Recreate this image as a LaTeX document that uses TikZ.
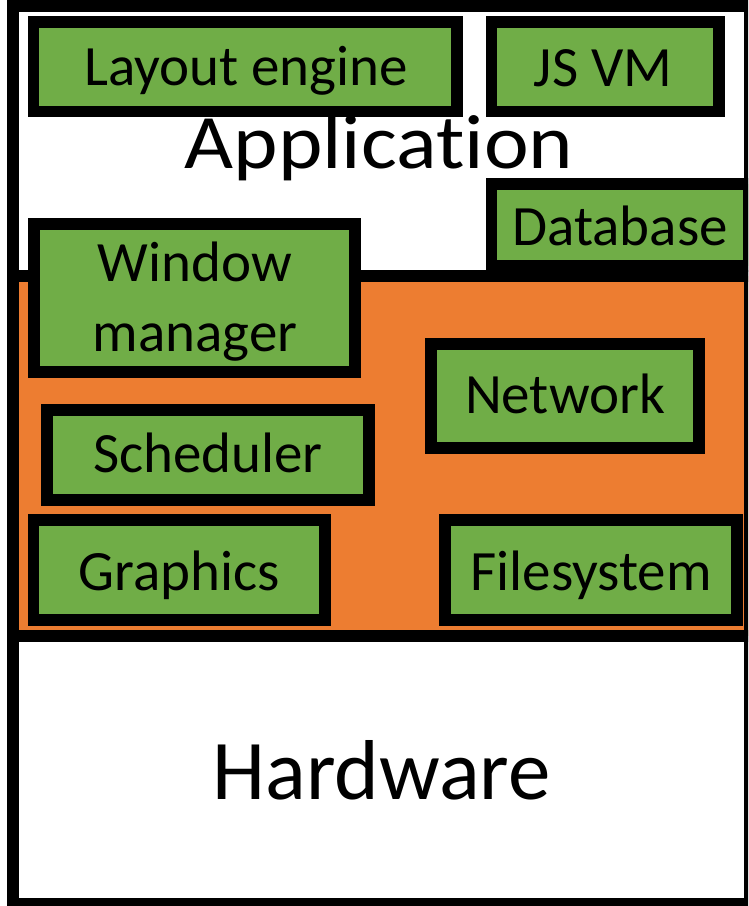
\documentclass[tikz,border=0pt]{standalone}
\usepackage{fontspec}
\setmainfont{Carlito}[Ligatures=NoCommon]
\usetikzlibrary{fit}
\definecolor{boxgreen}{HTML}{70AD47}
\definecolor{osorange}{HTML}{ED7D31}
\tikzset{
  layer/.style={draw=black, line width=12pt, inner sep=0pt, line join=miter},
  part/.style={draw=black, fill=boxgreen, line width=11.5pt, inner sep=0pt, line join=miter},
  partlabel/.style={font=\fontsize{57}{70}\selectfont, anchor=base, inner sep=0pt, align=center},
  biglabel/.style={anchor=base, inner sep=0pt},
}
\begin{document}
\begin{tikzpicture}[x=1pt,y=-1pt]
  \useasboundingbox (0,0) rectangle (748,906);
  \clip (0,0) rectangle (748,906);
  \fill[white] (0,0) rectangle (748,906);

  % the three layers of the stack
  \node[layer, fill=white, fit={(13,6) (750,276)}] (app) {};
  \node[layer, fill=osorange, fit={(13,276) (750,636)}] (os) {};
  \node[layer, fill=white, fit={(13,636) (750,904)}] (hw) {};

  \node[biglabel, font=\fontsize{77}{90}\selectfont, xscale=1.1] (applbl) at (379,168) {Application};
  \node[biglabel, font=\fontsize{85}{100}\selectfont] (hwlbl) at (381.5,799) {Hardware};

  % components
  \node[part, fit={(33.5,22) (457,111.5)}] (layout) {};
  \node[part, fit={(491.5,22) (719,111.5)}] (jsvm) {};
  \node[part, fit={(491.5,184) (749,266)}] (db) {};
  \node[part, fit={(34,224) (355,372)}] (wm) {};
  \node[part, fit={(431,344) (699,448)}] (net) {};
  \node[part, fit={(47,410) (369,500)}] (sched) {};
  \node[part, fit={(33.5,520) (325,620)}] (gfx) {};
  \node[part, fit={(445,520) (737,620)}] (fs) {};

  \node[partlabel] (layoutlbl) at (246,85) {Layout engine};
  \node[partlabel] (jsvmlbl) at (603,86) {JS VM};
  \node[partlabel] (dblbl) at (620,245) {Database};
  \node[partlabel] (wmlbl) at (195,351.7) {Window\\manager};
  \node[partlabel] (netlbl) at (565,413) {Network};
  \node[partlabel] (schedlbl) at (208,472.7) {Scheduler};
  \node[partlabel] (gfxlbl) at (179,590) {Graphics};
  \node[partlabel] (fslbl) at (591,590) {Filesystem};
\end{tikzpicture}
\end{document}
